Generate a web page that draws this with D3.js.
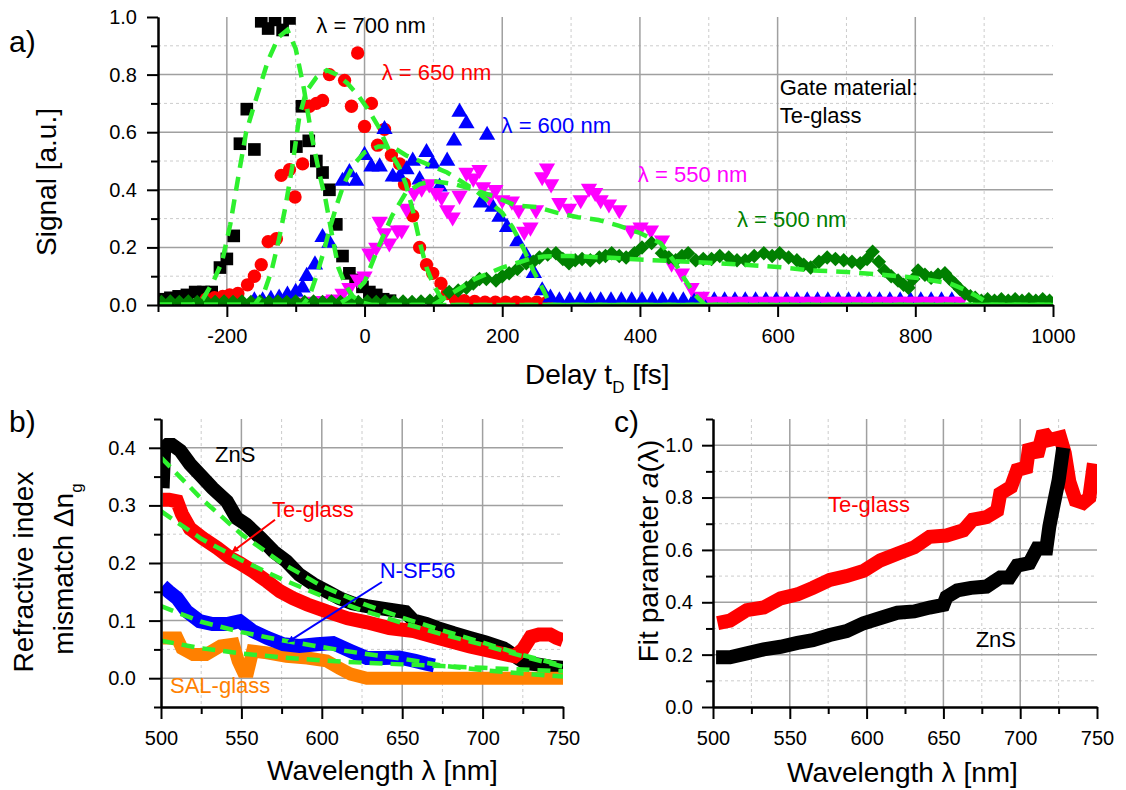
<!DOCTYPE html>
<html><head><meta charset="utf-8">
<script src="https://cdnjs.cloudflare.com/ajax/libs/d3/7.8.5/d3.min.js"></script>
<style>
body{margin:0;background:#fff;}
svg{display:block;font-family:"Liberation Sans",Arial,sans-serif;}
</style></head><body>
<svg id="chart" width="1126" height="790"></svg>
<script>
// ---------------- Panel a: signal vs delay ----------------
const aXMajor = [-200,0,200,400,600,800,1000];
const aXMinor = [-300,-100,100,300,500,700,900];
const aYMajor = [0,0.2,0.4,0.6,0.8,1.0];
const aYMinor = [0.1,0.3,0.5,0.7,0.9];

const t700 = [-295,-282,-270,-258,-246,-234,-222,-210,-200,-190,-181,-171,-160,-150,-140,-130,-119,-109,-99,-91,-81,-70,-61,-51,-41,-32,-22,-13,-3,7,17,27,37];
const s700 = [0.02,0.025,0.03,0.035,0.045,0.045,0.045,0.13,0.16,0.24,0.56,0.68,0.54,0.985,0.96,0.99,0.955,0.995,0.55,0.69,0.57,0.50,0.46,0.40,0.28,0.17,0.11,0.087,0.063,0.045,0.035,0.02,0.015];

const t650 = [-230,-218,-206,-196,-184,-170,-160,-150,-140,-128,-121,-109,-101,-90,-80,-70,-61,-51,-29,-19,-10,0,10,19,29,39,51,58,70,80,90,99,111,120,132,145,160,175,190,205,220,235,250,265];
const s650 = [0.02,0.025,0.03,0.035,0.04,0.07,0.10,0.14,0.22,0.23,0.45,0.47,0.375,0.49,0.69,0.70,0.71,0.80,0.78,0.69,0.875,0.62,0.70,0.555,0.61,0.52,0.49,0.42,0.31,0.20,0.14,0.11,0.075,0.04,0.02,0.015,0.012,0.01,0.01,0.01,0.01,0.01,0.01,0.01];

const t600 = [-160,-148,-136,-124,-112,-100,-90,-84,-72,-61,-51,-32,-22,-12,0,10,22,29,41,51,61,70,80,90,99,109,120,130,138,148,169,178,186,196,207,222,235,246,258,270,
  283,298,313,328,343,358,373,388,403,418,433,448,463,478,493,508,523,538,553,568,583,598,613,628,643,658,673,688,703,718,733,748,763,778,793,808,823,838,853];
const s600 = [0.015,0.015,0.02,0.025,0.035,0.045,0.06,0.10,0.14,0.235,0.215,0.43,0.46,0.43,0.52,0.48,0.48,0.61,0.445,0.445,0.47,0.50,0.435,0.53,0.49,0.41,0.50,0.57,0.67,0.63,0.355,0.59,0.34,0.305,0.27,0.22,0.17,0.11,0.05,0.025,
  0.015,0.015,0.015,0.015,0.015,0.015,0.015,0.015,0.015,0.015,0.015,0.015,0.015,0.015,0.015,0.015,0.015,0.015,0.015,0.015,0.015,0.015,0.015,0.015,0.015,0.015,0.015,0.015,0.015,0.015,0.015,0.015,0.015,0.015,0.015,0.015,0.015,0.015,0.015];

const t550 = [-90,-75,-60,-45,-32,-22,-10,0,7,17,22,29,36,48,54,61,72,83,94,104,112,120,128,138,148,158,167,172,181,190,200,214,224,232,241,249,258,265,271,283,297,314,326,335,343,355,370,387,401,416,432,446,461,475,490,
  505,520,535,550,565,580,595,610,625,640,655,670,685,700,715,730,745,760,775,790,805,820,835,850,865];
const s550 = [0.01,0.012,0.015,0.02,0.04,0.06,0.09,0.1,0.18,0.2,0.29,0.25,0.215,0.26,0.26,0.335,0.39,0.405,0.42,0.39,0.375,0.33,0.305,0.38,0.46,0.44,0.47,0.41,0.375,0.40,0.365,0.36,0.33,0.255,0.27,0.33,0.445,0.475,0.42,0.355,0.335,0.365,0.405,0.39,0.365,0.35,0.33,0.26,0.27,0.26,0.225,0.145,0.11,0.06,0.03,
  0.012,0.012,0.012,0.012,0.012,0.012,0.012,0.012,0.012,0.012,0.012,0.012,0.012,0.012,0.012,0.012,0.012,0.012,0.012,0.012,0.012,0.012,0.012,0.012,0.012];

const t500 = [-295,-282,-269,-256,-243,-230,-217,-204,-191,-178,-165,-152,-139,-126,-113,-100,-87,-74,-61,-48,-35,-22,-9,4,17,30,43,56,69,82,95,
  108,123,136,148,158,167,177,191,200,210,222,235,245,254,266,278,288,297,306,316,328,341,350,359,370,380,392,403,417,432,442,452,461,470,481,492,504,516,529,541,553,566,580,592,603,616,628,638,648,660,672,684,696,708,720,730,738,747,755,765,775,783,790,797,804,814,823,833,843,850,857,865,872,880,887,
  896,905,915,925,935,945,955,965,975,985,995];
const s500 = [0.01,0.012,0.01,0.012,0.01,0.012,0.01,0.012,0.01,0.012,0.01,0.012,0.01,0.012,0.01,0.012,0.01,0.012,0.01,0.012,0.01,0.012,0.01,0.012,0.01,0.012,0.01,0.012,0.01,0.012,0.015,
  0.02,0.045,0.05,0.06,0.075,0.09,0.09,0.085,0.1,0.11,0.125,0.145,0.15,0.165,0.175,0.18,0.16,0.145,0.155,0.16,0.155,0.165,0.17,0.18,0.17,0.165,0.18,0.2,0.215,0.18,0.165,0.155,0.17,0.18,0.155,0.16,0.16,0.17,0.165,0.155,0.155,0.17,0.18,0.17,0.18,0.165,0.155,0.14,0.13,0.15,0.165,0.16,0.155,0.15,0.145,0.16,0.185,0.15,0.12,0.1,0.085,0.07,0.06,0.09,0.12,0.105,0.095,0.105,0.11,0.09,0.075,0.055,0.04,0.03,0.025,
  0.015,0.02,0.015,0.02,0.015,0.02,0.015,0.02,0.015,0.02,0.015];

// fits (green dashed)
const fitT700 = [-300,-250,-235,-220,-207,-195,-183,-172,-157,-140,-125,-112,-100,-88,-77,-66,-57,-47,-38,-28,-17,-5,10,1000];
const fitS700 = [0,0,0.02,0.08,0.15,0.28,0.45,0.60,0.72,0.85,0.93,0.955,0.89,0.75,0.59,0.46,0.37,0.24,0.13,0.07,0.03,0.01,0,0];
const fitT650 = [-300,-160,-145,-135,-125,-115,-105,-95,-85,-70,-55,-40,-25,-10,5,20,35,50,60,70,80,90,100,110,125,1000];
const fitS650 = [0,0,0.05,0.12,0.22,0.34,0.48,0.65,0.74,0.79,0.815,0.80,0.77,0.73,0.68,0.62,0.54,0.48,0.42,0.33,0.22,0.13,0.07,0.03,0,0];
const fitT600 = [-300,-90,-80,-70,-60,-50,-40,-30,-15,0,20,40,60,80,100,120,140,160,180,200,215,230,245,260,270,1000];
const fitS600 = [0,0,0.03,0.1,0.18,0.27,0.35,0.42,0.49,0.53,0.55,0.55,0.52,0.50,0.48,0.46,0.43,0.40,0.36,0.32,0.27,0.2,0.12,0.05,0,0];
const fitT550 = [-300,-40,-20,0,20,40,60,80,100,130,160,190,220,250,280,310,340,370,400,430,450,465,480,495,1000];
const fitS550 = [0,0,0.03,0.08,0.2,0.31,0.39,0.42,0.43,0.42,0.40,0.375,0.345,0.34,0.32,0.305,0.295,0.275,0.25,0.215,0.15,0.09,0.035,0,0];
const fitT500 = [-300,100,120,140,160,180,200,220,240,260,280,300,350,400,450,500,550,600,650,700,750,800,850,870,890,910,1000];
const fitS500 = [0,0,0.03,0.06,0.09,0.11,0.13,0.145,0.16,0.168,0.17,0.17,0.165,0.158,0.152,0.147,0.14,0.132,0.12,0.115,0.105,0.095,0.075,0.055,0.03,0,0];

// ---------------- Panel b: refractive index mismatch ----------------
const bXMajor = [500,550,600,650,700,750];
const bXMinor = [525,575,625,675,725];
const bYMajor = [0,0.1,0.2,0.3,0.4];
const bYMinor = [-0.05,0.05,0.15,0.25,0.35,0.45];

const wlZnS = [501,502,504,507,512,518,524,532,541,547,553,562,570,578,586,595,603,611,619,628,640,652,657,665,672,682,692,702,713,722,727,734,742,750];
const dnZnS = [0.33,0.40,0.405,0.405,0.395,0.372,0.354,0.33,0.307,0.278,0.267,0.243,0.22,0.203,0.18,0.163,0.151,0.139,0.13,0.125,0.12,0.115,0.1,0.094,0.087,0.078,0.07,0.062,0.052,0.035,0.026,0.024,0.02,0.018];
const wlTe = [501,505,510,513,518,526,535,543,549,557,566,574,582,591,603,616,628,642,657,672,692,713,720,725,730,735,742,746,750];
const dnTe = [0.31,0.31,0.307,0.285,0.26,0.243,0.226,0.209,0.2,0.186,0.168,0.151,0.139,0.128,0.116,0.104,0.097,0.087,0.082,0.07,0.055,0.042,0.038,0.05,0.072,0.076,0.076,0.07,0.066];
const wlNSF = [501,505,510,516,524,532,541,549,557,566,576,586,597,607,618,628,638,648,658,665,670];
const dnNSF = [0.16,0.15,0.139,0.116,0.099,0.094,0.094,0.099,0.082,0.07,0.059,0.056,0.059,0.061,0.047,0.035,0.035,0.036,0.03,0.025,0.022];
const wlSAL = [501,510,513,520,528,537,545,548,551,554,557,566,578,591,603,611,618,628,650,700,750];
const dnSAL = [0.07,0.07,0.052,0.041,0.041,0.056,0.059,0.03,0.012,0.012,0.047,0.044,0.038,0.035,0.03,0.017,0.007,0.0,0.0,0.0,0.0];

const fitWl = [500,525,550,575,600,625,650,675,700,725,750];
const fitZnS = [0.383,0.312,0.25,0.2,0.16,0.13,0.105,0.083,0.062,0.04,0.022];
const fitTe = [0.29,0.242,0.205,0.172,0.143,0.118,0.096,0.076,0.058,0.038,0.02];
const fitNSF = [0.125,0.098,0.08,0.066,0.054,0.043,0.034,0.022,0.014,0.008,0.003];
const fitSAL = [0.065,0.052,0.043,0.036,0.031,0.027,0.024,0.021,0.018,0.015,0.012];

// ---------------- Panel c: fit parameter a(lambda) ----------------
const cXMajor = [500,550,600,650,700,750];
const cXMinor = [525,575,625,675,725];
const cYMajor = [0,0.2,0.4,0.6,0.8,1.0];
const cYMinor = [0.1,0.3,0.5,0.7,0.9,1.1];

const wlCTe = [503,511,522,533,544,555,565,576,587,598,609,620,631,641,652,663,669,678,685,687,694,698,704,706,711,715,719,726,729,732,736,741,745,748];
const aCTe = [0.32,0.33,0.37,0.38,0.415,0.43,0.455,0.485,0.50,0.52,0.56,0.585,0.61,0.65,0.655,0.675,0.715,0.725,0.75,0.815,0.84,0.905,0.915,1.0,0.96,1.05,1.02,1.03,0.97,0.86,0.79,0.78,0.80,0.93];
const wlCZnS = [502,511,522,533,544,555,565,576,587,598,609,620,631,641,650,652,659,668,678,687,693,698,706,711,717,719,722,725,728];
const aCZnS = [0.19,0.19,0.205,0.22,0.23,0.245,0.255,0.275,0.29,0.32,0.34,0.36,0.365,0.38,0.39,0.42,0.445,0.455,0.46,0.495,0.495,0.54,0.55,0.605,0.605,0.69,0.78,0.865,0.99];

// ---------------- drawing ----------------
const FONT = '"Liberation Sans", Arial, sans-serif';
const FITCOLOR = "#2ef02e";
const svg = d3.select("#chart");
const defs = svg.append("defs");

function panel(c){
  const x = d3.scaleLinear().domain(c.xDom).range([c.left,c.right]);
  const y = d3.scaleLinear().domain(c.yDom).range([c.bottom,c.top]);
  const g = svg.append("g");
  const inside = (v,d)=> v>d[0]+1e-9 && v<d[1]-1e-9;
  g.selectAll(null).data(c.xMinor.filter(v=>inside(v,c.xDom))).join("line")
    .attr("x1",d=>x(d)).attr("x2",d=>x(d)).attr("y1",c.top).attr("y2",c.bottom)
    .attr("stroke","#cccccc").attr("stroke-width",1).attr("stroke-dasharray","3,3");
  g.selectAll(null).data(c.yMinor.filter(v=>inside(v,c.yDom))).join("line")
    .attr("y1",d=>y(d)).attr("y2",d=>y(d)).attr("x1",c.left).attr("x2",c.right)
    .attr("stroke","#cccccc").attr("stroke-width",1).attr("stroke-dasharray","3,3");
  g.selectAll(null).data(c.xMajor.filter(v=>inside(v,c.xDom))).join("line")
    .attr("x1",d=>x(d)).attr("x2",d=>x(d)).attr("y1",c.top).attr("y2",c.bottom)
    .attr("stroke","#a0a0a0").attr("stroke-width",1.5);
  g.selectAll(null).data(c.yMajor.filter(v=>inside(v,c.yDom))).join("line")
    .attr("y1",d=>y(d)).attr("y2",d=>y(d)).attr("x1",c.left).attr("x2",c.right)
    .attr("stroke","#a0a0a0").attr("stroke-width",1.5);
  const clipId = "clip"+c.id;
  defs.append("clipPath").attr("id",clipId).append("rect")
    .attr("x",c.left).attr("y",c.top).attr("width",c.right-c.left).attr("height",c.bottom-c.top);
  const plot = svg.append("g").attr("clip-path",`url(#${clipId})`);
  return {x,y,plot,c};
}

function axes(p){
  const {x,y,c} = p;
  const style = sel => {
    sel.attr("font-family",FONT).attr("font-size",20);
    sel.selectAll("path.domain").attr("stroke","#000").attr("stroke-width",2);
    sel.selectAll(".tick line").attr("stroke","#000").attr("stroke-width",2);
    sel.selectAll(".tick text").attr("fill","#000");
  };
  svg.append("g").attr("transform",`translate(0,${c.bottom})`)
    .call(d3.axisBottom(x).tickValues(c.xMinor).tickFormat("").tickSize(7).tickSizeOuter(0)).call(style);
  svg.append("g").attr("transform",`translate(0,${c.bottom})`)
    .call(d3.axisBottom(x).tickValues(c.xMajor).tickFormat(d=>String(d)).tickSize(12).tickPadding(12).tickSizeOuter(0)).call(style);
  svg.append("g").attr("transform",`translate(${c.left},0)`)
    .call(d3.axisLeft(y).tickValues(c.yMinor).tickFormat("").tickSize(7).tickSizeOuter(0)).call(style);
  svg.append("g").attr("transform",`translate(${c.left},0)`)
    .call(d3.axisLeft(y).tickValues(c.yMajor).tickFormat(d3.format(".1f")).tickSize(c.ytick).tickPadding(c.ypad).tickSizeOuter(0)).call(style);
}

function markers(p, xs, ys, type, size, color, rot){
  p.plot.append("g").selectAll("path").data(xs.map((t,i)=>[t,ys[i]])).join("path")
    .attr("d", d3.symbol().type(type).size(size))
    .attr("transform", d=>`translate(${p.x(d[0])},${p.y(d[1])})` + (rot?` rotate(${rot})`:""))
    .attr("fill", color);
}
function band(p, xs, ys, color, w){
  p.plot.append("path").datum(xs.map((t,i)=>[t,ys[i]]))
    .attr("d", d3.line().x(d=>p.x(d[0])).y(d=>p.y(d[1])))
    .attr("fill","none").attr("stroke",color).attr("stroke-width",w)
    .attr("stroke-linejoin","miter").attr("stroke-miterlimit",2);
}
function fit(p, xs, ys, dash){
  p.plot.append("path").datum(xs.map((t,i)=>[t,ys[i]]))
    .attr("d", d3.line().x(d=>p.x(d[0])).y(d=>p.y(d[1])))
    .attr("fill","none").attr("stroke",FITCOLOR).attr("stroke-width",4.5)
    .attr("stroke-dasharray",dash);
}
function label(p, wl, v, txt, color, size){
  svg.append("text").attr("x",p.x(wl)).attr("y",p.y(v)).attr("font-family",FONT)
    .attr("font-size",size||22).attr("fill",color).text(txt);
}

// ---- panel a ----
const pa = panel({id:"a",left:158,right:1053,top:17,bottom:305,xDom:[-300,1000],yDom:[0,1],
  xMajor:aXMajor,xMinor:aXMinor,yMajor:aYMajor,yMinor:aYMinor,ytick:11,ypad:10});
markers(pa, t700, s700, d3.symbolSquare, 160, "#000000");
markers(pa, t650, s650, d3.symbolCircle, 140, "#ff0000");
markers(pa, t600, s600, d3.symbolTriangle, 115, "#0000ff");
markers(pa, t550, s550, d3.symbolTriangle, 115, "#ff00ff", 180);
markers(pa, t500, s500, d3.symbolSquare, 105, "#008000", 45);
[[fitT700,fitS700],[fitT650,fitS650],[fitT600,fitS600],[fitT550,fitS550],[fitT500,fitS500]]
  .forEach(f=>fit(pa,f[0],f[1],"14,9"));
axes(pa);
label(pa,-70,0.944,"λ = 700 nm","#000000");
label(pa,25,0.781,"λ = 650 nm","#ff0000");
label(pa,199,0.597,"λ = 600 nm","#0000ff");
label(pa,397,0.427,"λ = 550 nm","#ff00ff");
label(pa,541,0.271,"λ = 500 nm","#008000");
label(pa,603,0.729,"Gate material:","#000000");
label(pa,603,0.632,"Te-glass","#000000");

// ---- panel b ----
const pb = panel({id:"b",left:161,right:563,top:419,bottom:707,xDom:[500,750],yDom:[-0.05,0.45],
  xMajor:bXMajor,xMinor:bXMinor,yMajor:bYMajor,yMinor:bYMinor,ytick:12,ypad:13});
band(pb, wlZnS, dnZnS, "#000000", 14);
band(pb, wlTe, dnTe, "#ff0000", 14);
band(pb, wlSAL, dnSAL, "#ff8000", 13);
band(pb, wlNSF, dnNSF, "#0000ff", 14);
[fitZnS,fitTe,fitNSF,fitSAL].forEach(f=>fit(pb,fitWl,f,"13,8"));
axes(pb);
label(pb,533.6,0.375,"ZnS","#000000");
label(pb,569,0.280,"Te-glass","#ff0000");
label(pb,636,0.174,"N-SF56","#0000ff");
label(pb,505.6,-0.026,"SAL-glass","#ff8000");
// arrows
function arrow(p, x1,y1,x2,y2,color,id){
  const m = defs.append("marker").attr("id",id).attr("viewBox","0 0 10 10").attr("refX",9).attr("refY",5)
    .attr("markerWidth",8).attr("markerHeight",7).attr("markerUnits","userSpaceOnUse").attr("orient","auto");
  m.append("path").attr("d","M0,0 L10,5 L0,10 Z").attr("fill",color);
  svg.append("line").attr("x1",p.x(x1)).attr("y1",p.y(y1)).attr("x2",p.x(x2)).attr("y2",p.y(y2))
    .attr("stroke",color).attr("stroke-width",2).attr("marker-end",`url(#${id})`);
}
arrow(pb, 570.9,0.275, 544.2,0.219, "#ff0000","arrR");
arrow(pb, 637.4,0.167, 579,0.063, "#0000ff","arrB");

// ---- panel c ----
const pc = panel({id:"c",left:713,right:1097,top:419,bottom:707,xDom:[500,750],yDom:[0,1.1],
  xMajor:cXMajor,xMinor:cXMinor,yMajor:cYMajor,yMinor:cYMinor,ytick:11,ypad:9});
band(pc, wlCTe, aCTe, "#ff0000", 14);
band(pc, wlCZnS, aCZnS, "#000000", 14);
axes(pc);
label(pc,574.9,0.745,"Te-glass","#ff0000");
label(pc,671,0.229,"ZnS","#000000");

// ---- titles ----
function title(x,y,rot,anchor,build){
  const t = svg.append("text").attr("transform",`translate(${x},${y})`+(rot?` rotate(${rot})`:""))
    .attr("text-anchor",anchor).attr("font-family",FONT).attr("font-size",28).attr("fill","#000");
  build(t);
}
title(525,384,0,"start",t=>{t.append("tspan").text("Delay t");t.append("tspan").attr("font-size",17).attr("dy",9).text("D");t.append("tspan").attr("dy",-9).text(" [fs]");});
title(56,182,-90,"middle",t=>t.text("Signal [a.u.]"));
title(267,780,0,"start",t=>t.text("Wavelength λ [nm]"));
title(787,782,0,"start",t=>t.text("Wavelength λ [nm]"));
title(33,572,-90,"middle",t=>t.text("Refractive index"));
title(73,569,-90,"middle",t=>{t.append("tspan").text("mismatch Δn");t.append("tspan").attr("font-size",17).attr("dy",9).text("g");});
title(658,551,-90,"middle",t=>{t.append("tspan").text("Fit parameter ");t.append("tspan").attr("font-style","italic").text("a");t.append("tspan").text("(λ)");});
// panel letters
[["a)",9,52],["b)",9,432],["c)",614,432]].forEach(d=>{
  svg.append("text").attr("x",d[1]).attr("y",d[2]).attr("font-family",FONT).attr("font-size",30).attr("fill","#000").text(d[0]);
});
</script>
</body></html>
